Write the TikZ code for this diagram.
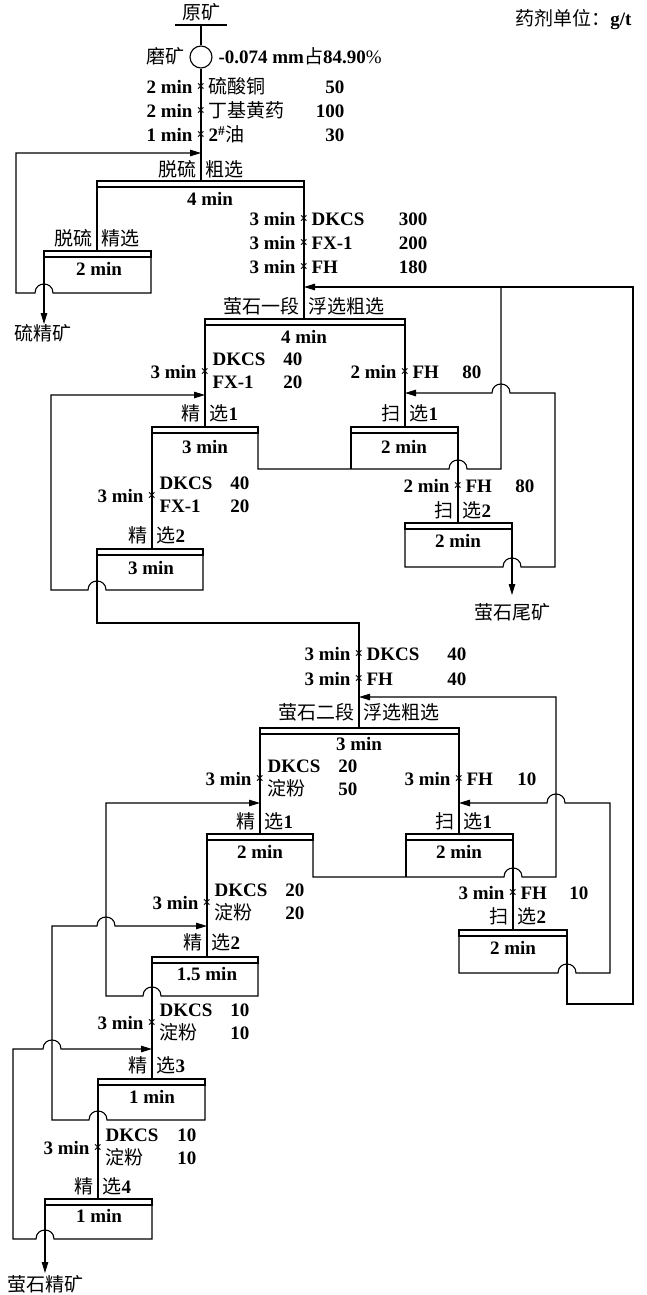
\documentclass[tikz,border=0pt]{standalone}
\usepackage{fontspec}
\setmainfont{Liberation Serif}
\newfontfamily\cjk{Noto Sans CJK SC}
\usetikzlibrary{arrows.meta}
\newcommand\zh[1]{{\cjk\mdseries #1}}
% one reagent line: id, x, y, time, name, dose-x, dose
\newcommand\rl[7]{%
  \node[tl] (#1t) at ({#2-8},#3) {#4};
  \node[crs] (#1x) at (#2,#3) {×};
  \node[tr] (#1n) at ({#2+7},#3) {#5};
  \node[tl] (#1d) at (#6,#3) {#7};}
% two reagents sharing one time: id, x, y, dose-x, name1, dose1, name2, dose2
\newcommand\rt[8]{%
  \node[tl] (#1t) at ({#2-8},#3) {3 min};
  \node[crs] (#1x) at (#2,#3) {×};
  \node[tr] (#1a) at ({#2+7},{#3-13}) {#5};
  \node[tl] (#1b) at (#4,{#3-13}) {#6};
  \node[tr] (#1c) at ({#2+7},{#3+10}) {#7};
  \node[tl] (#1e) at (#4,{#3+10}) {#8};}
% label split by the feed line: id, x, y, left, right
\newcommand\lb[5]{%
  \node[tl] (#1l) at ({#2-4},#3) {#4};
  \node[tr] (#1r) at ({#2+4},#3) {#5};}
% cell band: id, xl, xr, ytop
\newcommand\bx[4]{%
  \node[band, minimum width={#3-#2}] (#1) at ({(#2+#3)/2},{#4+3}) {};}
\begin{document}
\begin{tikzpicture}[x=1pt,y=-1pt,line width=1.1pt,
  every node/.style={inner sep=0pt,font=\fontsize{19}{22}\selectfont\bfseries},
  tl/.style={anchor=base east,yshift=-6.5pt},
  tr/.style={anchor=base west,yshift=-6.5pt},
  tc/.style={anchor=base,yshift=-6.5pt},
  crs/.style={font=\fontsize{15}{15}\selectfont\bfseries},
  band/.style={draw,fill=white,line width=1.2pt,minimum height=6pt},
  arr/.style={-{Triangle[length=11pt,width=6.5pt]}}]
\useasboundingbox (0,0) rectangle (646,1295);

% ---------- header ----------
\node[tc] (yuan) at (201,13) {\zh{原矿}};
\node[tl] (unit) at (632,19) {\zh{药剂单位：}g/t};
\node[circle,draw,minimum size=22pt,line width=1.1pt] (g) at (201,57) {};
\node[tl] (mokuang) at (185,57) {\zh{磨矿}};
\node[tr] (fine) at (218,57) {-0.074 mm\zh{占}84.90{\mdseries\%}};
\coordinate (yb) at (201,25);
\draw (175,25) -- (227,25);
\draw (yb) -- (g.north);
\draw (g.south) -- (201,181);

% ---------- streams ----------
% desulfurisation
\draw[arr] (151,251) -- (151,293) -- (53,293) .. controls (53,281) and (35,281) .. (35,293) -- (16,293) -- (16,153) -- (201,153);
\draw[arr] (44,251) -- (44,324);
\draw (97,181) -- (97,251);
\draw (304,181) -- (304,319);
% big return from stage II scavenger 2
\draw[arr] (567,930) -- (567,1004) -- (633,1004) -- (633,287) -- (304,287);
% stage I
\draw (258,427) -- (258,469) -- (449,469) .. controls (449,457) and (467,457) .. (467,469) -- (501,469) -- (501,287);
\draw (351,427) -- (351,469);
\draw (458,427) -- (458,523);
\draw (205,319) -- (205,427);
\draw (405,319) -- (405,427);
\draw (152,427) -- (152,549);
\draw[arr] (203,549) -- (203,590) -- (106,590) .. controls (106,578) and (88,578) .. (88,590) -- (51,590) -- (51,395) -- (205,395);
\draw (97,549) -- (97,623) -- (359,623) -- (359,728);
\draw[arr] (405,523) -- (405,567) -- (503,567) .. controls (503,555) and (521,555) .. (521,567) -- (555,567) -- (555,393) -- (510,393) .. controls (510,381) and (492,381) .. (492,393) -- (405,393);
\draw[arr] (512,523) -- (512,595);
% stage II
\draw (260,728) -- (260,834);
\draw (459,728) -- (459,834);
\draw[arr] (313,834) -- (313,877) -- (504,877) .. controls (504,865) and (522,865) .. (522,877) -- (556,877) -- (556,697) -- (359,697);
\draw (406,834) -- (406,877);
\draw (513,834) -- (513,930);
\draw (207,834) -- (207,957);
\draw[arr] (258,957) -- (258,996) -- (161,996) .. controls (161,984) and (143,984) .. (143,996) -- (106,996) -- (106,803) -- (260,803);
\draw (152,957) -- (152,1079);
\draw[arr] (459,930) -- (459,973) -- (558,973) .. controls (558,961) and (576,961) .. (576,973) -- (610,973) -- (610,803) -- (565,803) .. controls (565,791) and (547,791) .. (547,803) -- (459,803);
\draw[arr] (205,1079) -- (205,1120) -- (107,1120) .. controls (107,1108) and (89,1108) .. (89,1120) -- (52,1120) -- (52,926) -- (97,926) .. controls (97,914) and (115,914) .. (115,926) -- (207,926);
\draw (98,1079) -- (98,1199);
\draw[arr] (152,1199) -- (152,1239) -- (54,1239) .. controls (54,1227) and (36,1227) .. (36,1239) -- (13,1239) -- (13,1049) -- (43,1049) .. controls (43,1037) and (61,1037) .. (61,1049) -- (152,1049);
\draw[arr] (45,1199) -- (45,1273);

% ---------- cell bands ----------
\bx{bA}{97}{304}{181}
\bx{bB}{44}{151}{251}
\bx{bC}{205}{405}{319}
\bx{bD}{152}{258}{427}
\bx{bE}{351}{458}{427}
\bx{bF}{97}{203}{549}
\bx{bG}{405}{512}{523}
\bx{bH}{260}{459}{728}
\bx{bI}{207}{313}{834}
\bx{bJ}{406}{513}{834}
\bx{bK}{152}{258}{957}
\bx{bL}{459}{567}{930}
\bx{bM}{98}{205}{1079}
\bx{bN}{45}{152}{1199}

% ---------- times in cells ----------
\node[tc] (mA) at (210,199) {4 min};
\node[tc] (mB) at (99,269) {2 min};
\node[tc] (mC) at (304,337) {4 min};
\node[tc] (mD) at (205,447) {3 min};
\node[tc] (mE) at (404,447) {2 min};
\node[tc] (mF) at (151,568) {3 min};
\node[tc] (mG) at (458,541) {2 min};
\node[tc] (mH) at (359,744) {3 min};
\node[tc] (mI) at (260,852) {2 min};
\node[tc] (mJ) at (459,852) {2 min};
\node[tc] (mK) at (207,974) {1.5 min};
\node[tc] (mL) at (513,948) {2 min};
\node[tc] (mM) at (152,1097) {1 min};
\node[tc] (mN) at (99,1216) {1 min};

% ---------- cell labels ----------
\lb{lA}{201}{170}{\zh{脱硫}}{\zh{粗选}}
\lb{lB}{97}{239}{\zh{脱硫}}{\zh{精选}}
\lb{lC}{304}{307}{\zh{萤石一段}}{\zh{浮选粗选}}
\lb{lD}{205}{414}{\zh{精}}{\zh{选}1}
\lb{lE}{405}{414}{\zh{扫}}{\zh{选}1}
\lb{lF}{152}{536}{\zh{精}}{\zh{选}2}
\lb{lG}{458}{511}{\zh{扫}}{\zh{选}2}
\lb{lH}{359}{713}{\zh{萤石二段}}{\zh{浮选粗选}}
\lb{lI}{260}{822}{\zh{精}}{\zh{选}1}
\lb{lJ}{459}{822}{\zh{扫}}{\zh{选}1}
\lb{lK}{207}{943}{\zh{精}}{\zh{选}2}
\lb{lL}{513}{917}{\zh{扫}}{\zh{选}2}
\lb{lM}{152}{1066}{\zh{精}}{\zh{选}3}
\lb{lN}{98}{1187}{\zh{精}}{\zh{选}4}

% ---------- products ----------
\node[tc] (pS) at (43,334) {\zh{硫精矿}};
\node[tc] (pT) at (512,613) {\zh{萤石尾矿}};
\node[tc] (pC) at (46,1285) {\zh{萤石精矿}};

% ---------- reagents ----------
\rl{r1}{201}{87}{2 min}{\zh{硫酸铜}}{345}{50}
\rl{r2}{201}{111}{2 min}{\zh{丁基黄药}}{345}{100}
\rl{r3}{201}{135}{1 min}{2\textsuperscript{\#}\zh{油}}{345}{30}
\rl{r4}{304}{219}{3 min}{DKCS}{428}{300}
\rl{r5}{304}{243}{3 min}{FX-1}{428}{200}
\rl{r6}{304}{267}{3 min}{FH}{428}{180}
\rt{r7}{205}{372}{303}{DKCS}{40}{FX-1}{20}
\rl{r8}{405}{372}{2 min}{FH}{482}{80}
\rt{r9}{152}{496}{250}{DKCS}{40}{FX-1}{20}
\rl{r10}{458}{486}{2 min}{FH}{535}{80}
\rl{r11}{359}{654}{3 min}{DKCS}{467}{40}
\rl{r12}{359}{679}{3 min}{FH}{467}{40}
\rt{r13}{260}{779}{358}{DKCS}{20}{\zh{淀粉}}{50}
\rl{r14}{459}{779}{3 min}{FH}{537}{10}
\rt{r15}{207}{903}{305}{DKCS}{20}{\zh{淀粉}}{20}
\rl{r16}{513}{893}{3 min}{FH}{589}{10}
\rt{r17}{152}{1023}{250}{DKCS}{10}{\zh{淀粉}}{10}
\rt{r18}{98}{1148}{197}{DKCS}{10}{\zh{淀粉}}{10}
\end{tikzpicture}
\end{document}
